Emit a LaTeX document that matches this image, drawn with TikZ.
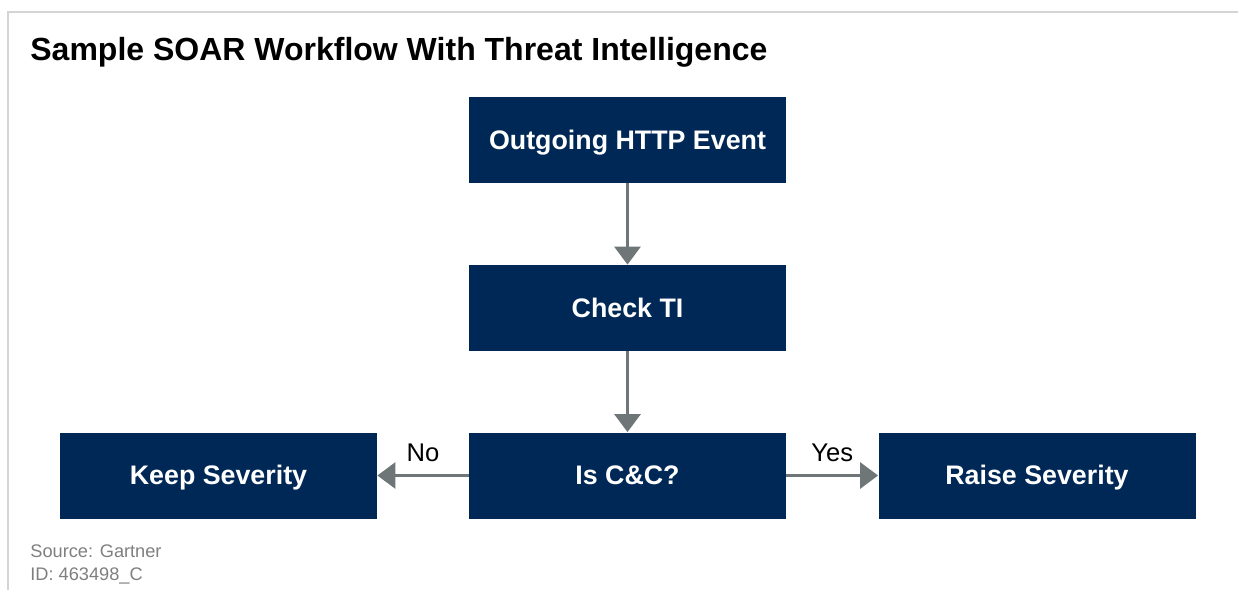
\documentclass[tikz,border=0pt]{standalone}
\usepackage{fontspec}
\setmainfont{Liberation Sans}
\usetikzlibrary{arrows.meta}

\definecolor{navy}{HTML}{002856}
\definecolor{arrowgray}{HTML}{6E7677}
\definecolor{framegray}{HTML}{D4D4D4}
\definecolor{notegray}{HTML}{7F7F7F}

\tikzset{
  stepbox/.style={fill=navy, text=white, minimum width=158.5pt, minimum height=43pt,
    inner sep=0pt, text height=0.9em, text depth=0pt,
    font=\fontsize{13.4}{16}\selectfont\bfseries},
  flow/.style={draw=arrowgray, line width=1.5pt, -{Triangle[width=13pt,length=9pt]}},
  branch/.style={font=\fontsize{12.8}{15}\selectfont},
  note/.style={anchor=base west, inner sep=0pt, text=notegray, font=\fontsize{9.1}{11}\selectfont}
}

\begin{document}
\begin{tikzpicture}[x=0.5pt, y=-0.5pt]

  % Frame
  \useasboundingbox (0,0) rectangle (1238,590);
  \draw [framegray, line width=0.8pt] (8,590) -- (8,12) -- (1238,12);

  % Title and note
  \node [anchor=base west, inner sep=0pt, font=\fontsize{16}{19}\selectfont\bfseries]
    (title) at (30,60) {Sample SOAR Workflow With Threat Intelligence};
  \node [note] (source) at (30,557) {Source: Gartner};
  \node [note] (docid)  at (30,580) {ID: 463498\_C};

  % Boxes
  \node [stepbox] (event) at (627.5,140) {Outgoing HTTP Event};
  \node [stepbox] (check) at (627.5,308) {Check TI};
  \node [stepbox] (isCC)  at (627.5,475.5) {Is C\&C?};
  \node [stepbox] (keep)  at (218.5,475.5) {Keep Severity};
  \node [stepbox] (raise) at (1037,475.5) {Raise Severity};

  % Connectors
  \draw [flow] (event) -- (check);
  \draw [flow] (check) -- (isCC);
  \draw [flow] (isCC) -- node [branch, above=3pt] {No} (keep);
  \draw [flow] (isCC) -- node [branch, above=3pt] {Yes} (raise);

\end{tikzpicture}
\end{document}
